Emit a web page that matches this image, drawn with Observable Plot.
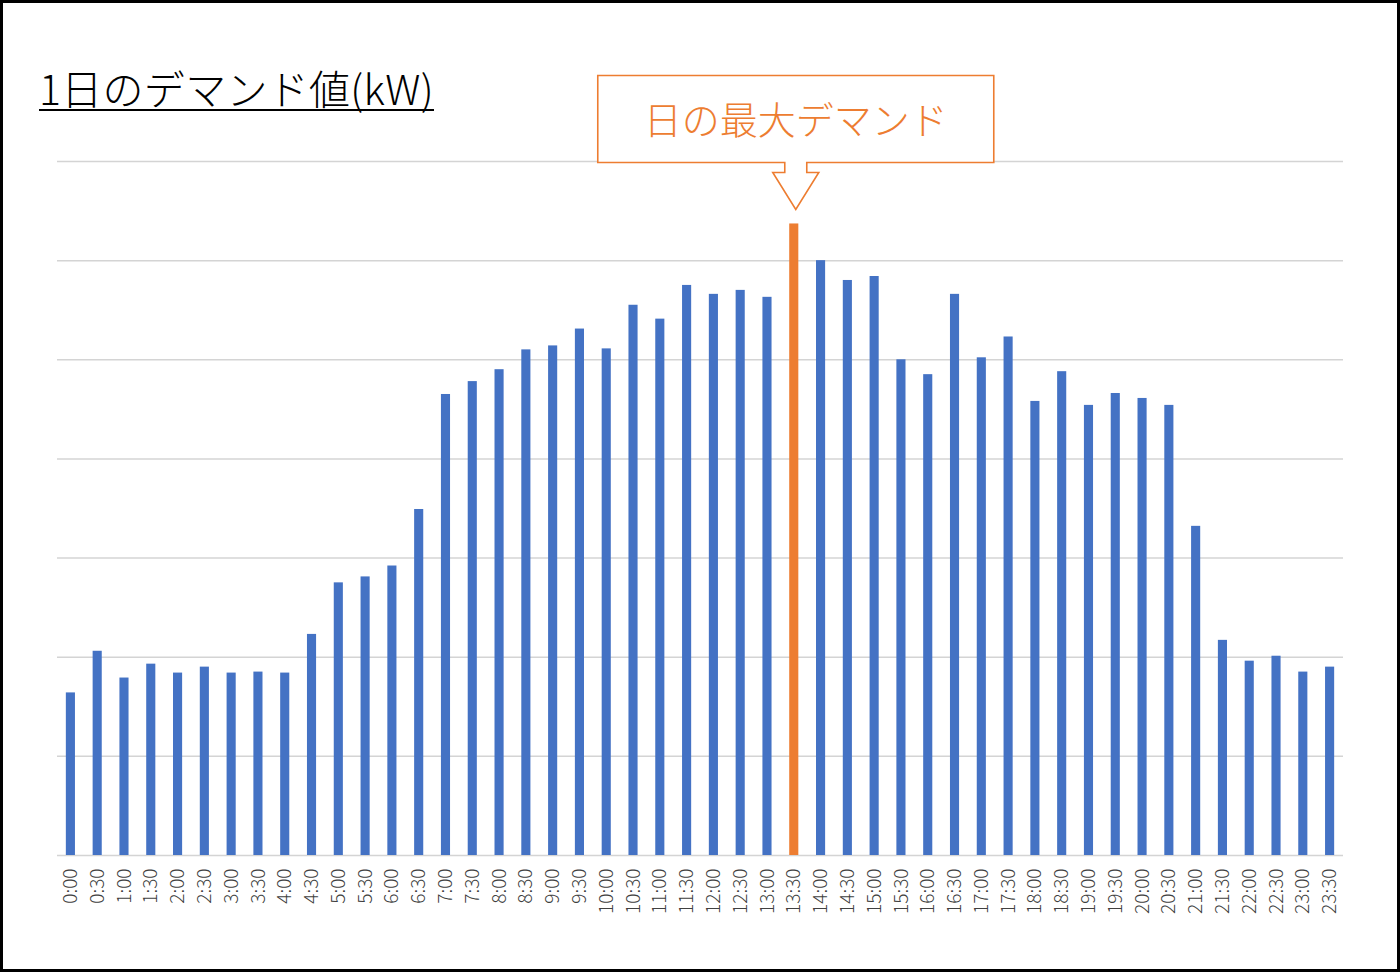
<!DOCTYPE html>
<html>
<head>
<meta charset="utf-8">
<script src="https://cdn.jsdelivr.net/npm/d3@7"></script>
<script src="https://cdn.jsdelivr.net/npm/@observablehq/plot@0.6"></script>
<style>
  html, body { margin: 0; padding: 0; background: #fff; }
  #wrap { position: relative; width: 1400px; height: 972px; overflow: hidden; background: #fff; }
  #frame { position: absolute; left: 0; top: 0; width: 1400px; height: 972px; box-sizing: border-box; border: 3px solid #000; pointer-events: none; z-index: 3; }
  #title { position: absolute; left: 39px; top: 67px; z-index: 2; font-family: "Noto Sans CJK JP", "Noto Sans", sans-serif; font-weight: 300; font-size: 41px; line-height: 1; color: #000; border-bottom: 2px solid #000; padding-bottom: 1px; letter-spacing: 0.3px; }
  #chart { position: absolute; left: 0; top: 0; }
</style>
</head>
<body>
<div id="wrap">
  <div id="title">1日のデマンド値(kW)</div>
  <div id="chart"></div>
  <div id="frame"></div>
</div>
<script>
// 30-minute time slots
const times = [
  "0:00","0:30","1:00","1:30","2:00","2:30","3:00","3:30","4:00","4:30",
  "5:00","5:30","6:00","6:30","7:00","7:30","8:00","8:30","9:00","9:30",
  "10:00","10:30","11:00","11:30","12:00","12:30","13:00","13:30","14:00","14:30",
  "15:00","15:30","16:00","16:30","17:00","17:30","18:00","18:30","19:00","19:30",
  "20:00","20:30","21:00","21:30","22:00","22:30","23:00","23:30"
];
// demand values (kW, estimated; gridlines every 100)
const demand = [
  164, 206, 179, 193, 184, 190, 184, 185, 184, 223,
  275, 281, 292, 349, 465, 478, 490, 510, 514, 531,
  511, 555, 541, 575, 566, 570, 563, 637, 600, 580,
  584, 500, 485, 566, 502, 523, 458, 488, 454, 466,
  461, 454, 332, 217, 196, 201, 185, 190
];
const gridValues = [0, 100, 200, 300, 400, 500, 600, 700];
const annotationText = "日の最大デマンド";

const data = times.map((t, i) => ({time: t, value: demand[i]}));
const maxValue = d3.max(demand);
const peakTime = times[demand.indexOf(maxValue)];

const blue = "#4472C4";
const orange = "#ED7D31";

const plot = Plot.plot({
  width: 1400,
  height: 972,
  marginLeft: 57,
  marginRight: 57,
  marginTop: 161,
  marginBottom: 117,
  style: {fontFamily: "'Noto Sans CJK JP', 'Noto Sans', sans-serif", fontSize: "19px", color: "#404040", background: "transparent", overflow: "visible"},
  x: {domain: times, paddingInner: 0.66, paddingOuter: 0.33, label: null},
  y: {domain: [0, 700], axis: null},
  marks: [
    Plot.ruleY(gridValues, {stroke: "#d4d4d4", strokeWidth: 1.5}),
    Plot.barY(data, {x: "time", y: "value", fill: d => d.time === peakTime ? orange : blue}),
    Plot.axisX({tickRotate: -90, tickSize: 0, tickPadding: 13, fontSize: 19, fontWeight: 300, label: null})
  ]
});
document.getElementById("chart").appendChild(plot);

// Callout annotation above the peak bar, positioned via the plot's scales
const xs = plot.scale("x");
const ys = plot.scale("y");
const cx = xs.apply(peakTime) + xs.bandwidth / 2 + 2;
const tipY = ys.apply(maxValue) - 14;
const headTop = tipY - 37, boxBottom = headTop - 10, boxTop = boxBottom - 87;
const halfW = 198, shaftHalf = 11, headHalf = 23;
const svg = d3.select(plot);
const g = svg.append("g");
const path = [
  [cx - halfW, boxTop], [cx + halfW, boxTop], [cx + halfW, boxBottom],
  [cx + shaftHalf, boxBottom], [cx + shaftHalf, headTop], [cx + headHalf, headTop],
  [cx, tipY], [cx - headHalf, headTop], [cx - shaftHalf, headTop],
  [cx - shaftHalf, boxBottom], [cx - halfW, boxBottom]
];
g.append("path")
  .attr("d", "M" + path.map(p => p.join(",")).join("L") + "Z")
  .attr("fill", "#fff")
  .attr("stroke", orange)
  .attr("stroke-width", 1.6);
g.append("text")
  .attr("x", cx)
  .attr("y", (boxTop + boxBottom) / 2 - 1)
  .attr("text-anchor", "middle")
  .attr("dominant-baseline", "central")
  .attr("fill", orange)
  .attr("font-size", 38)
  .attr("font-weight", 300)
  .attr("font-family", "'Noto Sans CJK JP', sans-serif")
  .text(annotationText);
</script>
</body>
</html>
